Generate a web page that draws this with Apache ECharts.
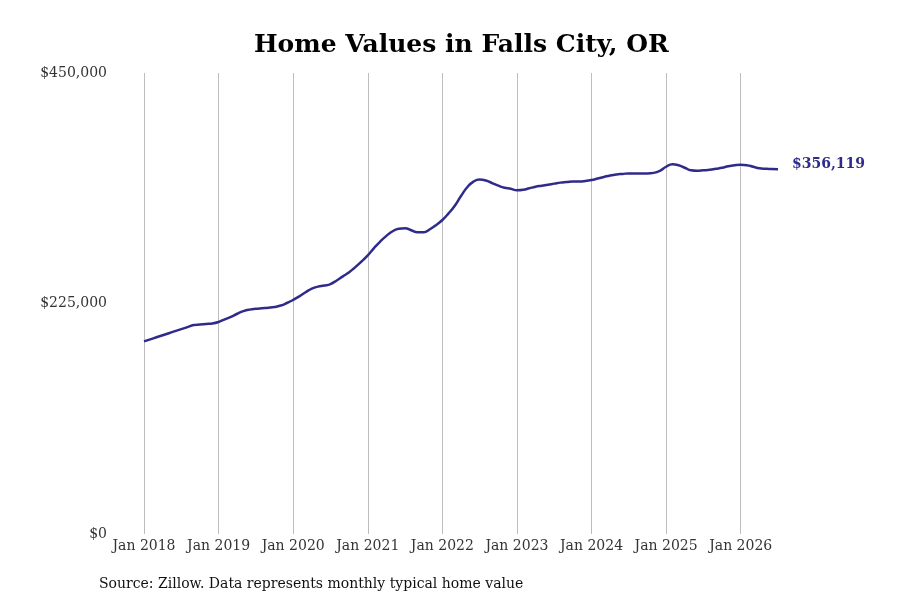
<!DOCTYPE html>
<html>
<head>
<meta charset="UTF-8">
<title>Home Values in Falls City, OR</title>
<script src="https://cdn.jsdelivr.net/npm/echarts@6/dist/echarts.min.js"></script>
<style>
  html, body { margin: 0; padding: 0; background: #fff; }
  #main { width: 900px; height: 600px; }
</style>
</head>
<body>
<div id="main"></div>
<script>
// monthly typical home value, Jan 2018 .. Jul 2026 (thousands of $)
var values2018 = [188, 190, 192, 194, 196, 198, 200, 202, 204, 204.5, 205, 205.5];
var values2019 = [207, 209.5, 212, 215, 217.5, 219, 219.8, 220.3, 220.8, 221.5, 223, 225.5];
var values2020 = [228.5, 232, 236, 239.5, 241.5, 242.5, 244, 247.5, 251.5, 255.5, 260.5, 266];
var values2021 = [272, 279, 285.5, 291, 295.5, 298, 298.5, 296.5, 294.5, 294.5, 297.5, 301.5];
var values2022 = [306.5, 313, 320.5, 330, 338.5, 344, 346, 345, 342.5, 340, 338, 337];
var values2023 = [335.5, 336, 337.5, 339, 340, 341, 342, 343, 343.5, 344, 344, 344.5];
var values2024 = [345.5, 347, 348.5, 350, 351, 351.5, 352, 352, 352, 352, 352.5, 354.5];
var values2025 = [358.5, 361, 360, 357.5, 355, 354.5, 355, 355.5, 356.5, 357.5, 359, 360];
var values2026 = [360.5, 360, 358.5, 357, 356.5, 356.2, 356.119];

var years = [2018, 2019, 2020, 2021, 2022, 2023, 2024, 2025, 2026];
var monthNames = ['Jan', 'Feb', 'Mar', 'Apr', 'May', 'Jun', 'Jul', 'Aug', 'Sep', 'Oct', 'Nov', 'Dec'];
var yTicks = [0, 225000, 450000];

var valuesK = [].concat(values2018, values2019, values2020, values2021, values2022,
  values2023, values2024, values2025, values2026);
var values = valuesK.map(function (v) { return Math.round(v * 1000); });

var months = [];
years.forEach(function (y) {
  monthNames.forEach(function (m) { months.push(m + ' ' + y); });
});
months = months.slice(0, values.length);

function money(v) {
  return '$' + v.toString().replace(/\B(?=(\d{3})+(?!\d))/g, ',');
}

var font = 'DejaVu Serif';
var lineColor = '#2f2b8a';

var chart = echarts.init(document.getElementById('main'));
chart.setOption({
  animation: false,
  title: [{
    text: 'Home Values in Falls City, OR',
    left: 249,
    top: 28,
    textStyle: { fontFamily: font, fontSize: 25, fontWeight: 'bold', color: '#000' }
  }, {
    text: 'Source: Zillow. Data represents monthly typical home value',
    left: 94,
    top: 572,
    textStyle: { fontFamily: font, fontSize: 14, fontWeight: 'normal', color: '#111' }
  }],
  grid: { left: 144, right: 122, top: 73, bottom: 66, containLabel: false },
  xAxis: {
    type: 'category',
    data: months,
    boundaryGap: false,
    axisLine: { show: false },
    axisTick: { show: false },
    axisLabel: {
      interval: function (i) { return i % 12 === 0; },
      fontFamily: font, fontSize: 14, color: '#333', margin: 5
    },
    splitLine: {
      show: true,
      interval: function (i) { return i % 12 === 0; },
      lineStyle: { color: '#bdbdbd', width: 1 }
    }
  },
  yAxis: {
    type: 'value',
    min: yTicks[0],
    max: yTicks[yTicks.length - 1],
    interval: yTicks[1] - yTicks[0],
    axisLine: { show: false },
    axisTick: { show: false },
    splitLine: { show: false },
    axisLabel: {
      fontFamily: font, fontSize: 14, color: '#333', margin: 37,
      formatter: function (v) { return money(v); }
    }
  },
  series: [{
    type: 'line',
    data: values,
    smooth: true,
    showSymbol: false,
    lineStyle: { color: lineColor, width: 2.5 },
    itemStyle: { color: lineColor },
    endLabel: {
      show: true,
      distance: 14,
      offset: [0, -5],
      fontFamily: font, fontSize: 14, fontWeight: 'bold', color: lineColor,
      formatter: function (p) { return money(p.value); }
    }
  }]
});
</script>
</body>
</html>
